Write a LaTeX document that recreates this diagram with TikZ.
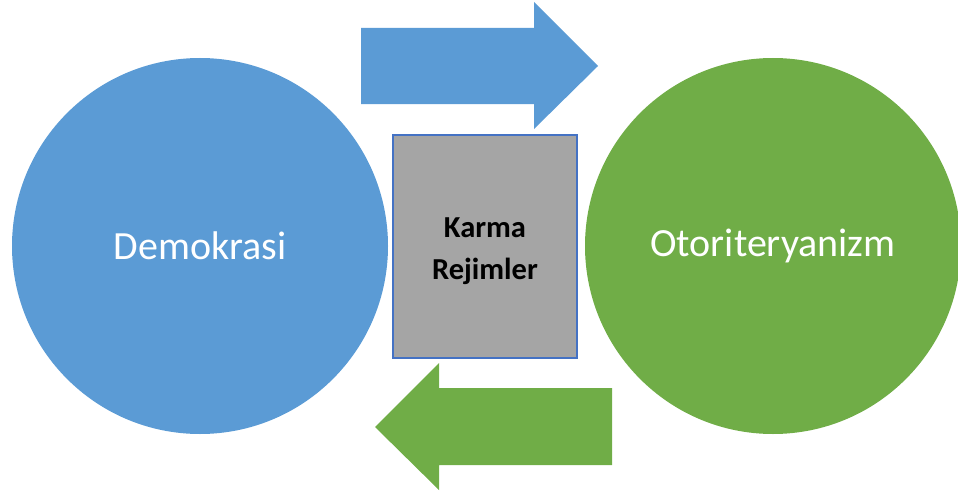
\documentclass[tikz,border=0pt]{standalone}
\usepackage{fontspec}
\setmainfont{Carlito}
\definecolor{cblue}{HTML}{5B9BD5}
\definecolor{cgreen}{HTML}{70AD47}
\definecolor{cgray}{HTML}{A5A5A5}
\definecolor{cborder}{HTML}{4472C4}
\tikzset{
  bigcircle/.style={circle, minimum size=376pt, inner sep=0pt, text=white, font=\fontsize{40}{48}\selectfont},
  midbox/.style={rectangle, fill=cgray, draw=cborder, line width=2pt, minimum width=184pt, minimum height=223pt, inner sep=0pt},
  boxtext/.style={inner sep=0pt, align=center, font=\fontsize{30.5}{42}\selectfont\bfseries},
}
\begin{document}
\begin{tikzpicture}[x=1pt,y=-1pt]
\useasboundingbox (0,0) rectangle (958,495);
\node[bigcircle, fill=cblue] (demo) at (200,246) {Demokrasi};
\node[bigcircle, fill=cgreen] (oto) at (773,246) {Otoriteryanizm};
\node[midbox] (karma) at (485,246.5) {};
\node[boxtext] (karmatext) at ([yshift=-5pt]karma.center) {Karma\\Rejimler};
\fill[cblue] (361,28) -- (534,28) -- (534,2) -- (598,66) -- (534,129) -- (534,104) -- (361,104) -- cycle;
\fill[cgreen] (612,388) -- (439,388) -- (439,363) -- (375,427) -- (439,490) -- (439,465) -- (612,465) -- cycle;
\end{tikzpicture}
\end{document}
